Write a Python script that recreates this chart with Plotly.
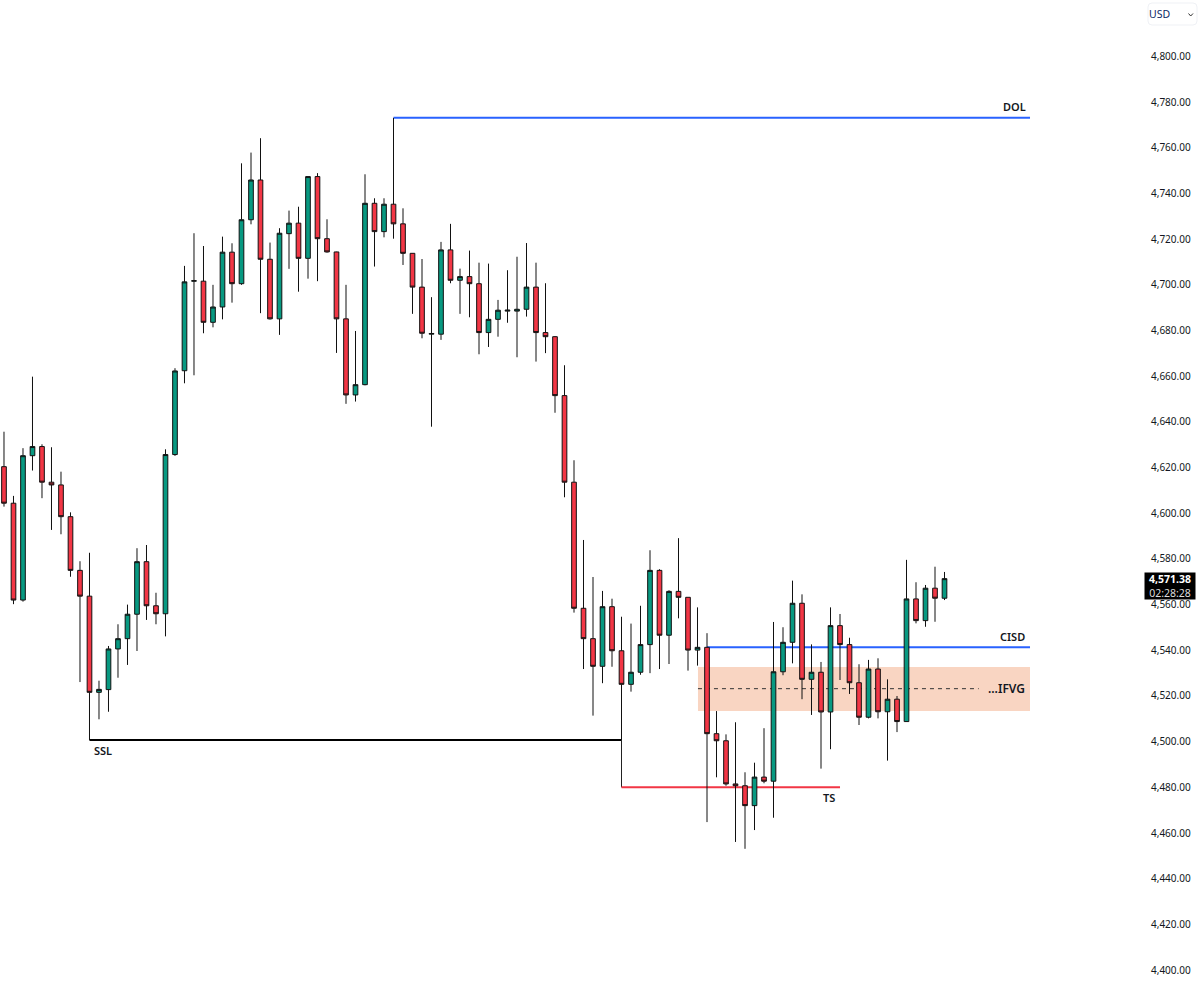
#!/usr/bin/env python3

import plotly.graph_objects as go

WIDTH = 1200
HEIGHT = 983
PLOT_RIGHT = 1150

# candles, left to right
highs = [
    4635.7, 4607.6, 4628.5, 4659.8, 4630.2, 4628.9, 4618.2, 4600.4, 4579.0, 4582.7,
    4526.7, 4541.9, 4551.4, 4560.0, 4584.7, 4586.1, 4565.2, 4628.0, 4663.5, 4708.3,
    4722.6, 4717.0, 4700.0, 4721.1, 4718.2, 4753.2, 4757.9, 4764.2, 4718.5, 4724.8,
    4732.5, 4734.2, 4747.4, 4748.9, 4728.7, 4714.5, 4700.0, 4679.8, 4748.4, 4737.9,
    4737.9, 4773.1, 4733.5, 4713.8, 4711.3, 4694.6, 4718.8, 4726.7, 4707.1, 4715.0,
    4709.7, 4709.3, 4693.4, 4706.4, 4712.3, 4718.3, 4709.7, 4700.7, 4677.6, 4664.8,
    4623.2, 4588.3, 4572.1, 4566.0, 4562.6, 4554.7, 4551.7, 4559.5, 4583.8, 4575.5,
    4566.3, 4589.1, 4563.2, 4558.8, 4547.5, 4513.4, 4503.2, 4508.5, 4486.6, 4490.8,
    4505.9, 4552.4, 4550.1, 4570.5, 4564.5, 4542.6, 4534.9, 4558.8, 4555.9, 4545.5,
    4533.9, 4535.8, 4536.5, 4527.3, 4520.0, 4579.6, 4569.8, 4568.6, 4576.6, 4574.3,
]
lows = [
    4602.9, 4560.2, 4561.3, 4618.7, 4606.6, 4592.7, 4590.8, 4572.2, 4526.1, 4500.7,
    4509.8, 4513.1, 4528.0, 4533.6, 4539.7, 4553.3, 4551.4, 4546.1, 4625.1, 4656.9,
    4660.4, 4678.8, 4681.4, 4684.9, 4692.2, 4700.0, 4726.5, 4687.6, 4684.8, 4678.1,
    4707.0, 4697.0, 4702.7, 4701.6, 4714.1, 4670.2, 4647.9, 4648.9, 4656.0, 4708.0,
    4720.8, 4720.2, 4708.7, 4687.3, 4676.6, 4637.9, 4675.9, 4700.7, 4687.3, 4685.8,
    4669.6, 4672.8, 4677.3, 4683.4, 4668.3, 4686.1, 4666.4, 4670.1, 4644.0, 4607.0,
    4556.5, 4531.8, 4511.4, 4525.6, 4532.8, 4500.7, 4521.9, 4529.3, 4530.0, 4531.8,
    4534.0, 4554.0, 4531.1, 4533.3, 4464.8, 4484.4, 4480.7, 4456.1, 4453.1, 4461.3,
    4481.8, 4466.7, 4529.1, 4534.3, 4518.6, 4511.7, 4488.2, 4496.7, 4527.0, 4520.9,
    4507.3, 4510.2, 4510.2, 4491.7, 4504.2, 4508.8, 4551.8, 4550.3, 4552.5, 4562.0,
]
opens = [
    4620.4, 4604.4, 4562.0, 4625.2, 4629.2, 4613.6, 4612.4, 4598.5, 4575.0, 4563.7,
    4521.6, 4522.8, 4540.6, 4545.1, 4555.8, 4578.8, 4559.5, 4556.0, 4625.7, 4662.4,
    4701.6, 4701.6, 4683.6, 4690.3, 4714.3, 4700.5, 4728.5, 4745.9, 4711.2, 4685.1,
    4722.4, 4727.0, 4711.6, 4747.4, 4720.2, 4714.4, 4685.1, 4651.8, 4656.3, 4735.7,
    4723.3, 4735.3, 4726.7, 4713.8, 4699.0, 4678.4, 4678.4, 4715.3, 4702.0, 4703.6,
    4700.5, 4679.1, 4684.9, 4688.5, 4688.5, 4689.3, 4699.0, 4679.1, 4677.3, 4651.5,
    4613.6, 4558.4, 4545.1, 4533.0, 4559.1, 4539.8, 4525.1, 4530.4, 4542.5, 4575.0,
    4546.6, 4565.8, 4563.2, 4540.1, 4541.3, 4503.5, 4500.4, 4481.5, 4480.7, 4472.0,
    4484.5, 4482.7, 4530.6, 4543.5, 4560.6, 4527.3, 4530.4, 4513.0, 4550.8, 4542.5,
    4525.8, 4510.7, 4531.8, 4513.1, 4518.6, 4508.8, 4562.5, 4553.0, 4567.2, 4562.8,
]
closes = [
    4604.4, 4562.0, 4625.2, 4629.2, 4613.6, 4612.4, 4598.5, 4575.0, 4563.7, 4521.6,
    4522.9, 4540.6, 4545.1, 4555.8, 4578.8, 4559.5, 4556.0, 4625.7, 4662.3, 4701.3,
    4701.8, 4683.6, 4690.3, 4714.3, 4700.5, 4728.5, 4745.9, 4711.2, 4685.1, 4722.6,
    4727.0, 4711.6, 4747.4, 4720.2, 4714.4, 4685.1, 4651.8, 4656.3, 4735.7, 4723.3,
    4735.3, 4726.7, 4713.8, 4699.0, 4678.8, 4678.7, 4715.3, 4702.0, 4703.6, 4700.5,
    4679.1, 4684.9, 4688.9, 4688.9, 4689.3, 4699.0, 4679.1, 4677.3, 4651.5, 4613.6,
    4558.4, 4545.1, 4533.0, 4559.1, 4539.8, 4525.1, 4530.4, 4542.5, 4575.0, 4546.6,
    4565.8, 4563.2, 4540.1, 4541.3, 4503.5, 4500.4, 4481.5, 4480.7, 4472.0, 4484.5,
    4482.7, 4530.6, 4543.5, 4560.6, 4527.3, 4530.4, 4513.0, 4550.8, 4542.5, 4525.8,
    4510.7, 4531.8, 4513.1, 4518.6, 4508.8, 4562.5, 4553.0, 4567.2, 4562.8, 4571.38,
]
candle_index = list(range(len(closes)))

price_ticks = list(range(4400, 4801, 20))
price_range = [4394.35, 4824.7]
index_range = [-0.42, 120.63]

dol_level = 4773.1
ssl_level = 4500.7
ts_level = 4480.0
cisd_level = 4541.3
ifvg_top = 4532.7
ifvg_bottom = 4513.4
ifvg_mid = 4523.2

dol_start = 41
ssl_start = 9
ssl_end = 65
ts_end = 88
cisd_start = 74
ifvg_start = 73.05
ifvg_mid_end = 102.6
zone_end = 108

LABEL_FONT = dict(family="Noto Sans", size=11, color="#131722", weight=600)


def xp(px):
    return px / PLOT_RIGHT


def yp(py):
    return 1 - py / HEIGHT


def level_line(x0, y0, x1, y1, color, width=2, dash="solid"):
    return dict(
        type="line", layer="below", xref="x", yref="y",
        x0=x0, y0=y0, x1=x1, y1=y1,
        line=dict(color=color, width=width, dash=dash),
    )


def label(text, x, y, font=LABEL_FONT):
    return dict(
        text=text, x=x, y=y, xref="x", yref="y", showarrow=False,
        xanchor="center", yanchor="middle", font=font,
    )


fig = go.Figure(
    go.Candlestick(
        x=candle_index,
        open=opens,
        high=highs,
        low=lows,
        close=closes,
        increasing=dict(fillcolor="#089981", line=dict(color="#111111", width=1)),
        decreasing=dict(fillcolor="#F23645", line=dict(color="#111111", width=1)),
        whiskerwidth=0,
        hoverinfo="none",
        showlegend=False,
    )
)

shapes = [
    dict(
        type="rect", layer="below", xref="x", yref="y",
        x0=ifvg_start, x1=zone_end, y0=ifvg_bottom, y1=ifvg_top,
        fillcolor="#F9D5C2", line_width=0,
    ),
    level_line(ifvg_start, ifvg_mid, ifvg_mid_end, ifvg_mid, "#333333", 1, "4px,4px"),
    level_line(dol_start, dol_level, zone_end, dol_level, "#2962FF"),
    level_line(ssl_start, ssl_level, ssl_end, ssl_level, "#000000"),
    level_line(ssl_end, ssl_level, ssl_end, ts_level, "#222222", 1),
    level_line(ssl_end, ts_level, ts_end, ts_level, "#F23645"),
    level_line(cisd_start, cisd_level, zone_end, cisd_level, "#2962FF"),
    # currency selector box
    dict(
        type="path", xref="paper", yref="paper",
        path=(
            f"M {xp(1152)} {yp(3)} L {xp(1193)} {yp(3)} "
            f"Q {xp(1197)} {yp(3)} {xp(1197)} {yp(7)} L {xp(1197)} {yp(21)} "
            f"Q {xp(1197)} {yp(25)} {xp(1193)} {yp(25)} L {xp(1152)} {yp(25)} "
            f"Q {xp(1148)} {yp(25)} {xp(1148)} {yp(21)} L {xp(1148)} {yp(7)} "
            f"Q {xp(1148)} {yp(3)} {xp(1152)} {yp(3)} Z"
        ),
        line=dict(color="#EFF1F5", width=1),
    ),
    dict(
        type="path", xref="paper", yref="paper",
        path=f"M {xp(1188.5)} {yp(13.5)} L {xp(1190.7)} {yp(16)} L {xp(1193)} {yp(13.5)}",
        line=dict(color="#333333", width=1),
    ),
]

annotations = [
    label("DOL", 106.4, 4778),
    label("SSL", 10.4, 4496.2),
    label("TS", 86.8, 4475.6),
    label("CISD", 106.2, 4546.2),
    label("...IFVG", 105.5, ifvg_mid, dict(LABEL_FONT, size=12)),
    dict(
        text="USD", x=xp(1159.5), y=yp(14), xref="paper", yref="paper",
        xanchor="center", yanchor="middle", showarrow=False,
        font=dict(family="Noto Sans", size=10.5, color="#0A2A66"),
    ),
    dict(
        text="<b>4,571.38</b><br><span style='color:#DDDDDD'>02:28:28</span>",
        x=xp(1170.3), y=yp(585.8), xref="paper", yref="paper",
        xanchor="center", yanchor="middle",
        showarrow=False, width=50, height=26, borderpad=0, bgcolor="#000000",
        font=dict(family="Noto Sans", size=10.5, color="#FFFFFF"),
    ),
]

fig.update_layout(
    width=WIDTH,
    height=HEIGHT,
    margin=dict(l=0, r=WIDTH - PLOT_RIGHT, t=0, b=0, pad=0),
    paper_bgcolor="#FFFFFF",
    plot_bgcolor="#FFFFFF",
    showlegend=False,
    shapes=shapes,
    annotations=annotations,
    xaxis=dict(
        range=index_range, visible=False, rangeslider=dict(visible=False),
        showgrid=False, zeroline=False,
    ),
    yaxis=dict(
        range=price_range, side="right", showgrid=False, zeroline=False,
        tickmode="array", tickvals=price_ticks,
        ticktext=[f"{p:,.2f}" for p in price_ticks],
        ticks="", showline=False,
        tickfont=dict(family="Noto Sans", size=10, color="#131722"),
    ),
)

fig.write_html(
    "out.html",
    config=dict(displayModeBar=False),
    post_script="document.body.style.margin = '0';",
)
